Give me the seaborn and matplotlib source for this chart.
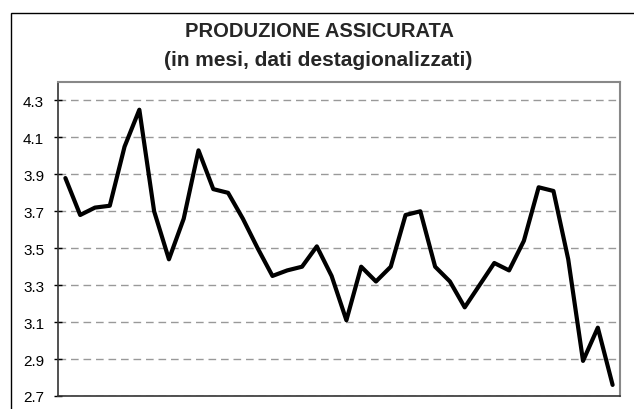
import matplotlib
matplotlib.use("Agg")
import matplotlib.pyplot as plt
import seaborn as sns
import pandas as pd
import numpy as np
from matplotlib.patches import Rectangle

periods = list(range(1, 39))
values = [3.88, 3.68, 3.72, 3.73, 4.05, 4.25, 3.70, 3.44, 3.66, 4.03,
          3.82, 3.80, 3.66, 3.50, 3.35, 3.38, 3.40, 3.51, 3.35, 3.11,
          3.40, 3.32, 3.40, 3.68, 3.70, 3.40, 3.32, 3.18, 3.30, 3.42,
          3.38, 3.54, 3.83, 3.81, 3.44, 2.89, 3.07, 2.76]
yticks = [2.7, 2.9, 3.1, 3.3, 3.5, 3.7, 3.9, 4.1, 4.3]
title_line1 = "PRODUZIONE ASSICURATA"
title_line2 = "(in mesi, dati destagionalizzati)"

sns.set_theme(style="white")
plt.rcParams['font.family'] = ['Liberation Sans', 'DejaVu Sans']

df = pd.DataFrame({"periodo": periods, "valore": values})

W, H = 634, 410
fig = plt.figure(figsize=(W / 100, H / 100), dpi=100)
fig.patch.set_facecolor("white")

# outer chart frame (left & top visible, rest cropped)
fig.patches.append(Rectangle((11 / W, -0.1), 2.0, (H - 14) / H + 0.1,
                             transform=fig.transFigure, fill=False,
                             edgecolor="black", linewidth=1.0, zorder=0))

ax = fig.add_axes([58 / W, (H - 397) / H, 562 / W, 314 / H])
ax.set_facecolor("white")

sns.lineplot(data=df, x="periodo", y="valore", ax=ax, color="black",
             linewidth=3.0, zorder=5)

ax.set_xlim(periods[0] - 0.5, periods[-1] + 0.5)
ax.set_ylim(2.7, 4.4)
ax.set_yticks(yticks)
ax.set_yticklabels([f"{t:.1f}" for t in yticks], fontsize=11)
ax.set_xticks([])
ax.set_xlabel("")
ax.set_ylabel("")
ax.yaxis.grid(True, linestyle=(0, (5.5, 3.5)), color="#999999", linewidth=1.0)
ax.tick_params(axis="y", direction="inout", length=6, width=1, color="black",
               pad=7, left=True, labelcolor="black")
for s in ["top", "right"]:
    ax.spines[s].set_color("#888888")
    ax.spines[s].set_linewidth(1.5)
for s in ["left", "bottom"]:
    ax.spines[s].set_color("#333333")
    ax.spines[s].set_linewidth(1.2)

fig.text(319 / W, 1 - 31.5 / H, title_line1, ha="center", va="center",
         fontsize=14.5, fontweight="bold")
fig.text(318 / W, 1 - 60 / H, title_line2, ha="center", va="center",
         fontsize=15, fontweight="bold")

fig.savefig("out.png", dpi=100, facecolor="white")
